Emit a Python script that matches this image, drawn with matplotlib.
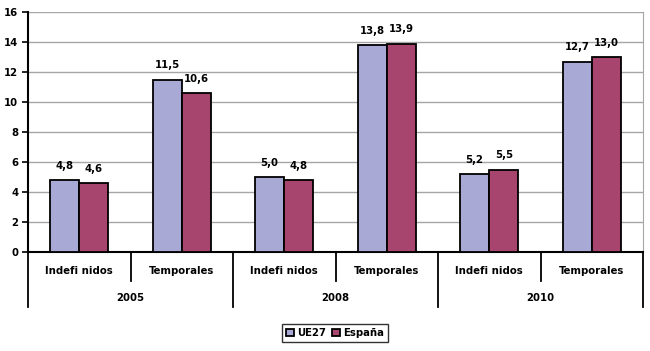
import matplotlib
matplotlib.use("Agg")
import matplotlib.pyplot as plt
import numpy as np

years = ["2005", "2008", "2010"]
tipos = ["Indefi nidos", "Temporales"]
ue27 = [4.8, 11.5, 5.0, 13.8, 5.2, 12.7]
espana = [4.6, 10.6, 4.8, 13.9, 5.5, 13.0]
series_names = ["UE27", "España"]
col_ue = "#A9A9D5"
col_es = "#A8456F"

plt.rcParams['font.family'] = ['DejaVu Sans']
plt.rcParams['font.weight'] = 'bold'
fs = 7.3

W, H = 650, 351
fig = plt.figure(figsize=(6.5, 3.51), dpi=100)
ax = fig.add_axes([28 / W, 1 - 252 / H, (643 - 28) / W, (252 - 12) / H])

n = len(ue27)
x = np.arange(n)
bw = 0.285
b1 = ax.bar(x - bw / 2, ue27, bw, color=col_ue, edgecolor="black", linewidth=1.3, label=series_names[0], zorder=3)
b2 = ax.bar(x + bw / 2, espana, bw, color=col_es, edgecolor="black", linewidth=1.3, label=series_names[1], zorder=3)

for bars, vals in ((b1, ue27), (b2, espana)):
    for r, v in zip(bars, vals):
        ax.annotate(f"{v:.1f}".replace(".", ","), (r.get_x() + r.get_width() / 2, v),
                    xytext=(0, 6.5), textcoords="offset points", ha="center", va="bottom",
                    fontsize=fs, fontweight="bold")

ax.set_xlim(-0.5, n - 0.5)
ax.set_ylim(0, 16)
ax.set_yticks(range(0, 17, 2))
ax.tick_params(axis="y", labelsize=fs, length=4, width=1.2, pad=3)
ax.set_xticks([])
ax.grid(axis="y", color="#A6A6A6", linewidth=1, zorder=0)
ax.spines["left"].set_linewidth(1.5)
ax.spines["bottom"].set_linewidth(1.5)
ax.spines["top"].set_visible(False)
ax.spines["right"].set_color("#A6A6A6")

# category axis drawn by hand below the plot
trans = ax.get_xaxis_transform()
for i in range(n + 1):
    pos = i - 0.5
    low = -55 / 240 if i % 2 == 0 else -29 / 240
    ax.plot([pos, pos], [0, low], transform=trans, color="black", linewidth=1.3, clip_on=False)
for i in range(n):
    ax.text(i, -19 / 240, tipos[i % 2], transform=trans, ha="center", va="center",
            fontsize=fs, fontweight="bold")
for j, yr in enumerate(years):
    ax.text(2 * j + 0.5, -46 / 240, yr, transform=trans, ha="center", va="center",
            fontsize=fs, fontweight="bold")

leg = fig.legend(handles=[b1, b2], loc="center", bbox_to_anchor=(335 / W, 1 - 333 / H),
                 ncol=2, fontsize=fs, frameon=True, fancybox=False, handlelength=0.8,
                 handleheight=0.8, handletextpad=0.3, columnspacing=0.6, borderpad=0.4)
leg.get_frame().set_edgecolor("black")
leg.get_frame().set_linewidth(1.0)

fig.savefig("out.png", dpi=100)
